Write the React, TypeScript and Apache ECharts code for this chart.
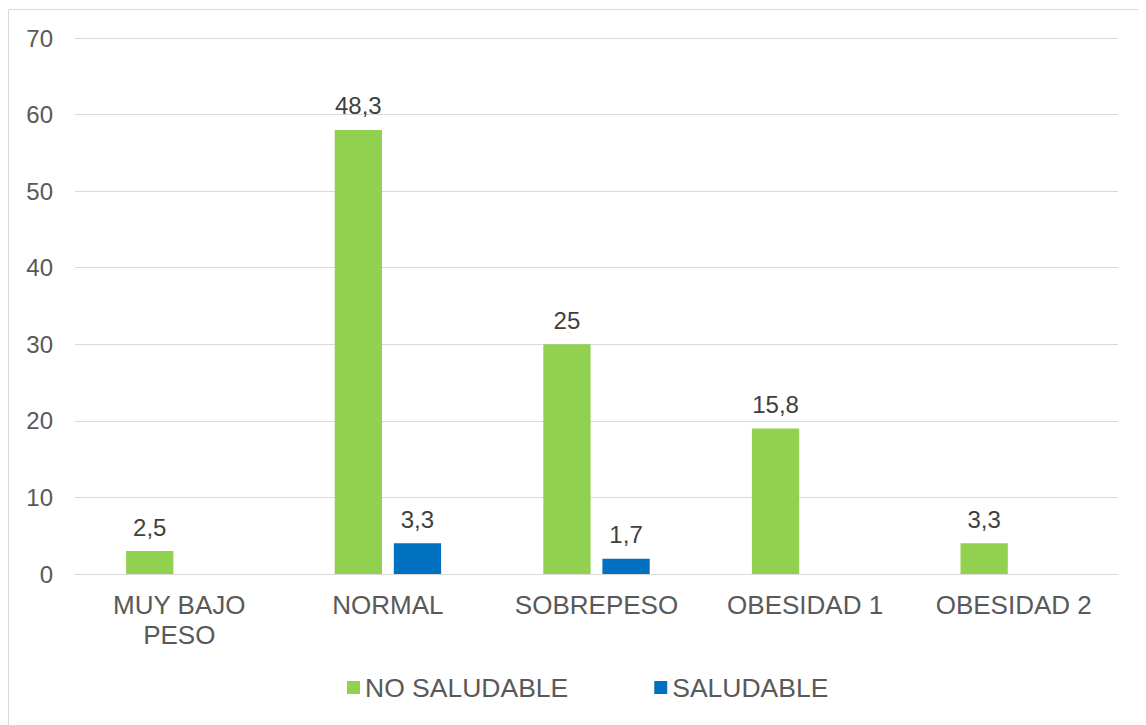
import React, { useEffect, useRef } from "react";
import * as echarts from "echarts";

const categories = ["MUY BAJO\nPESO", "NORMAL", "SOBREPESO", "OBESIDAD 1", "OBESIDAD 2"];
const seriesNames = ["NO SALUDABLE", "SALUDABLE"];
const noSaludableBars = [3, 58, 30, 19, 4];
const saludableBars: (number | null)[] = [null, 4, 2, null, null];
const noSaludableLabels = ["2,5", "48,3", "25", "15,8", "3,3"];
const saludableLabels = ["", "3,3", "1,7", "", ""];
const yTicks = { min: 0, max: 70, interval: 10 };

const FONT = "'Liberation Sans', Arial, sans-serif";

export default function App() {
  const ref = useRef<HTMLDivElement>(null);
  useEffect(() => {
    if (!ref.current) return;
    const chart = echarts.init(ref.current, null, { renderer: "svg" });
    const mkLabel = (labels: string[]) => ({
      show: true,
      position: "top" as const,
      distance: 12,
      color: "#404040",
      fontSize: 24,
      fontFamily: FONT,
      formatter: (p: any) => labels[p.dataIndex],
    });
    chart.setOption({
      animation: false,
      backgroundColor: "#ffffff",
      textStyle: { fontFamily: FONT },
      graphic: [
        {
          type: "rect",
          shape: { x: 0.5, y: 1.5, width: 1300, height: 900 },
          style: { fill: "none", stroke: "#d9d9d9", lineWidth: 1 },
          silent: true,
        },
      ],
      grid: { left: 67, right: 28, top: 30, bottom: 151 },
      legend: {
        bottom: 19,
        left: 334,
        itemWidth: 13,
        itemHeight: 13,
        itemGap: 86,
        icon: "rect",
        textStyle: { color: "#595959", fontSize: 26.5, fontFamily: FONT },
        data: seriesNames,
      },
      xAxis: {
        type: "category",
        data: categories,
        axisLine: { lineStyle: { color: "#d9d9d9", width: 1 } },
        axisTick: { show: false },
        axisLabel: {
          color: "#595959",
          fontSize: 26,
          fontFamily: FONT,
          margin: 16,
          lineHeight: 30,
          interval: 0,
        },
      },
      yAxis: {
        type: "value",
        min: yTicks.min,
        max: yTicks.max,
        interval: yTicks.interval,
        axisLine: { show: false },
        axisTick: { show: false },
        splitLine: { lineStyle: { color: "#d9d9d9", width: 1 } },
        axisLabel: { color: "#595959", fontSize: 24, fontFamily: FONT, margin: 22 },
      },
      series: [
        {
          name: seriesNames[0],
          type: "bar",
          data: noSaludableBars,
          itemStyle: { color: "#92D050" },
          barGap: "25%",
          barCategoryGap: "49%",
          label: mkLabel(noSaludableLabels),
        },
        {
          name: seriesNames[1],
          type: "bar",
          data: saludableBars,
          itemStyle: { color: "#0070C0" },
          barGap: "25%",
          barCategoryGap: "49%",
          label: mkLabel(saludableLabels),
        },
      ],
    });
    return () => chart.dispose();
  }, []);
  return <div ref={ref} style={{ width: 1138, height: 717 }} />;
}
